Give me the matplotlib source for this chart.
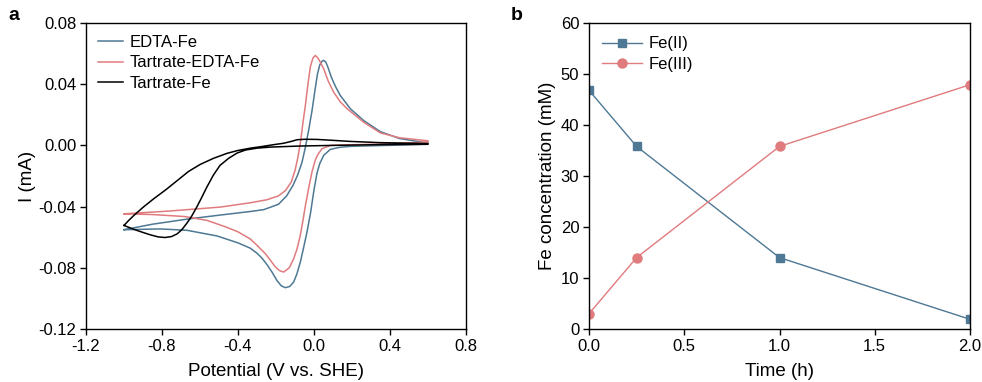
import matplotlib
matplotlib.use("Agg")
import matplotlib.pyplot as plt

plt.rcParams["font.family"] = ["Liberation Sans", "DejaVu Sans"]
plt.rcParams["font.size"] = 12

BLUE = "#4e7894"
RED = "#e07b7e"

# --- panel a: cyclic voltammograms, traced as closed loops (E in V, I in mA)
edta_e = [-1.0, -0.85, -0.668, -0.492, -0.335, -0.265, -0.187, -0.144, -0.110, -0.085,
          -0.063, -0.045, -0.028, -0.010, 0.005, 0.018, 0.030, 0.042, 0.051, 0.062,
          0.075, 0.090, 0.113, 0.138, 0.191, 0.261, 0.349, 0.45, 0.6,
          0.6, 0.45, 0.349, 0.20, 0.138, 0.086, 0.051, 0.030, 0.016, 0.0,
          -0.018, -0.037, -0.055, -0.072, -0.090, -0.107, -0.128, -0.151, -0.172, -0.194,
          -0.220, -0.247, -0.275, -0.300, -0.335, -0.40, -0.51, -0.668, -0.808, -1.0]
edta_i = [-0.0551, -0.0515, -0.0482, -0.0455, -0.0432, -0.0420, -0.0385, -0.0330, -0.0260, -0.0190,
          -0.0110, -0.0010, 0.0100, 0.0230, 0.0360, 0.0465, 0.0525, 0.0550, 0.0556, 0.0545,
          0.0505, 0.0450, 0.0385, 0.0327, 0.0240, 0.0163, 0.0090, 0.0045, 0.0015,
          0.0007, 0.0002, -0.0001, -0.0006, -0.0012, -0.0026, -0.0065, -0.0120, -0.0180, -0.0290,
          -0.0440, -0.0567, -0.0670, -0.0763, -0.0840, -0.0893, -0.0922, -0.0930, -0.0918, -0.0885,
          -0.0830, -0.0780, -0.0735, -0.0705, -0.0672, -0.0637, -0.0592, -0.0555, -0.0546, -0.0551]

tart_edta_e = [-1.0, -0.773, -0.563, -0.492, -0.335, -0.247, -0.187, -0.150, -0.120, -0.100,
               -0.085, -0.070, -0.058, -0.045, -0.032, -0.019, -0.006, 0.007, 0.020, 0.035,
               0.051, 0.075, 0.103, 0.138, 0.174, 0.261, 0.349, 0.45, 0.6,
               0.6, 0.45, 0.349, 0.20, 0.086, 0.042, 0.020, 0.007, -0.010, -0.025,
               -0.045, -0.058, -0.072, -0.090, -0.107, -0.130, -0.160, -0.182, -0.203, -0.230,
               -0.256, -0.308, -0.335, -0.40, -0.46, -0.563, -0.68, -0.85, -1.0]
tart_edta_i = [-0.0447, -0.0430, -0.0410, -0.0403, -0.0375, -0.0355, -0.0330, -0.0295, -0.0240, -0.0165,
               -0.0080, 0.0030, 0.0150, 0.0265, 0.0400, 0.0515, 0.0570, 0.0588, 0.0572, 0.0540,
               0.0501, 0.0420, 0.0349, 0.0285, 0.0240, 0.0152, 0.0082, 0.0050, 0.0030,
               0.0022, 0.0014, 0.0009, 0.0004, 0.0, -0.0022, -0.0060, -0.0095, -0.0170, -0.0260,
               -0.0392, -0.0490, -0.0588, -0.0680, -0.0741, -0.0800, -0.0828, -0.0818, -0.0795, -0.0750,
               -0.0708, -0.0643, -0.0612, -0.0565, -0.0535, -0.0490, -0.0465, -0.0452, -0.0447]

tart_e = [-1.0, -0.975, -0.95, -0.90, -0.845, -0.78, -0.72, -0.66, -0.60, -0.53,
          -0.458, -0.40, -0.335, -0.283, -0.247, -0.20, -0.16, -0.12, -0.089, -0.05,
          0.016, 0.10, 0.191, 0.349, 0.6,
          0.6, 0.349, 0.10, -0.072, -0.229, -0.30, -0.36, -0.405, -0.45, -0.495,
          -0.53, -0.565, -0.595, -0.62, -0.645, -0.67, -0.695, -0.72, -0.75, -0.785,
          -0.82, -0.86, -0.90, -0.95, -1.0]
tart_i = [-0.0523, -0.0490, -0.0460, -0.0405, -0.0350, -0.0290, -0.0230, -0.0170, -0.0125, -0.0085,
          -0.0052, -0.0033, -0.0018, -0.0009, -0.0002, 0.0007, 0.0014, 0.0026, 0.0037, 0.0040,
          0.0039, 0.0033, 0.0026, 0.0018, 0.0012,
          0.0008, 0.0005, 0.0, -0.0004, -0.0011, -0.0018, -0.0030, -0.0050, -0.0085, -0.0131,
          -0.0195, -0.0275, -0.0350, -0.0410, -0.0465, -0.0510, -0.0550, -0.0578, -0.0596, -0.0602,
          -0.0598, -0.0585, -0.0569, -0.0548, -0.0523]

# --- panel b: Fe concentration vs time
time_h = [0.0, 0.25, 1.0, 2.0]
fe2 = [46.8, 35.8, 14.0, 1.9]
fe3 = [3.0, 14.0, 35.8, 47.9]

fig = plt.figure(figsize=(9.82, 3.82), dpi=100)
ax1 = fig.add_axes([86 / 982, 53 / 382, 380 / 982, 306 / 382])
ax2 = fig.add_axes([589 / 982, 53 / 382, 381 / 982, 306 / 382])

ax1.plot(edta_e, edta_i, color=BLUE, lw=1.1, label="EDTA-Fe")
ax1.plot(tart_edta_e, tart_edta_i, color=RED, lw=1.1, label="Tartrate-EDTA-Fe")
ax1.plot(tart_e, tart_i, color="black", lw=1.1, label="Tartrate-Fe")
ax1.set_xlim(-1.2, 0.8)
ax1.set_ylim(-0.12, 0.08)
ax1.set_xticks([-1.2, -0.8, -0.4, 0.0, 0.4, 0.8])
ax1.set_yticks([-0.12, -0.08, -0.04, 0.0, 0.04, 0.08])
ax1.set_xticklabels(["-1.2", "-0.8", "-0.4", "0.0", "0.4", "0.8"])
ax1.set_yticklabels(["-0.12", "-0.08", "-0.04", "0.00", "0.04", "0.08"])
ax1.set_xlabel("Potential (V vs. SHE)", fontsize=13.5, labelpad=7)
ax1.set_ylabel("I (mA)", fontsize=13.5, labelpad=2)
ax1.legend(loc="upper left", frameon=False, handlelength=1.5, handletextpad=0.4,
           labelspacing=0.35, borderaxespad=0.3, fontsize=12)

ax2.plot(time_h, fe2, color=BLUE, lw=1.0, marker="s", ms=6, label="Fe(II)")
ax2.plot(time_h, fe3, color=RED, lw=1.0, marker="o", ms=6.5, label="Fe(III)")
ax2.set_xlim(0, 2)
ax2.set_ylim(0, 60)
ax2.set_xticks([0.0, 0.5, 1.0, 1.5, 2.0])
ax2.set_yticks([0, 10, 20, 30, 40, 50, 60])
ax2.set_xticklabels(["0.0", "0.5", "1.0", "1.5", "2.0"])
ax2.set_xlabel("Time (h)", fontsize=13.5, labelpad=7)
ax2.set_ylabel("Fe concentration (mM)", fontsize=13.5, labelpad=3)
ax2.legend(loc="upper left", frameon=False, handlelength=2.4, handletextpad=0.4,
           labelspacing=0.35, borderaxespad=0.4, fontsize=12)

for ax in (ax1, ax2):
    ax.tick_params(direction="out", length=4, width=1, labelsize=12, pad=3,
                   top=False, right=False)
    for sp in ax.spines.values():
        sp.set_linewidth(1.0)

fig.text(14 / 982, 1 - 15 / 382, "a", fontsize=14, fontweight="bold", ha="center", va="center")
fig.text(517 / 982, 1 - 15 / 382, "b", fontsize=14, fontweight="bold", ha="center", va="center")

fig.savefig("out.png", dpi=100)
